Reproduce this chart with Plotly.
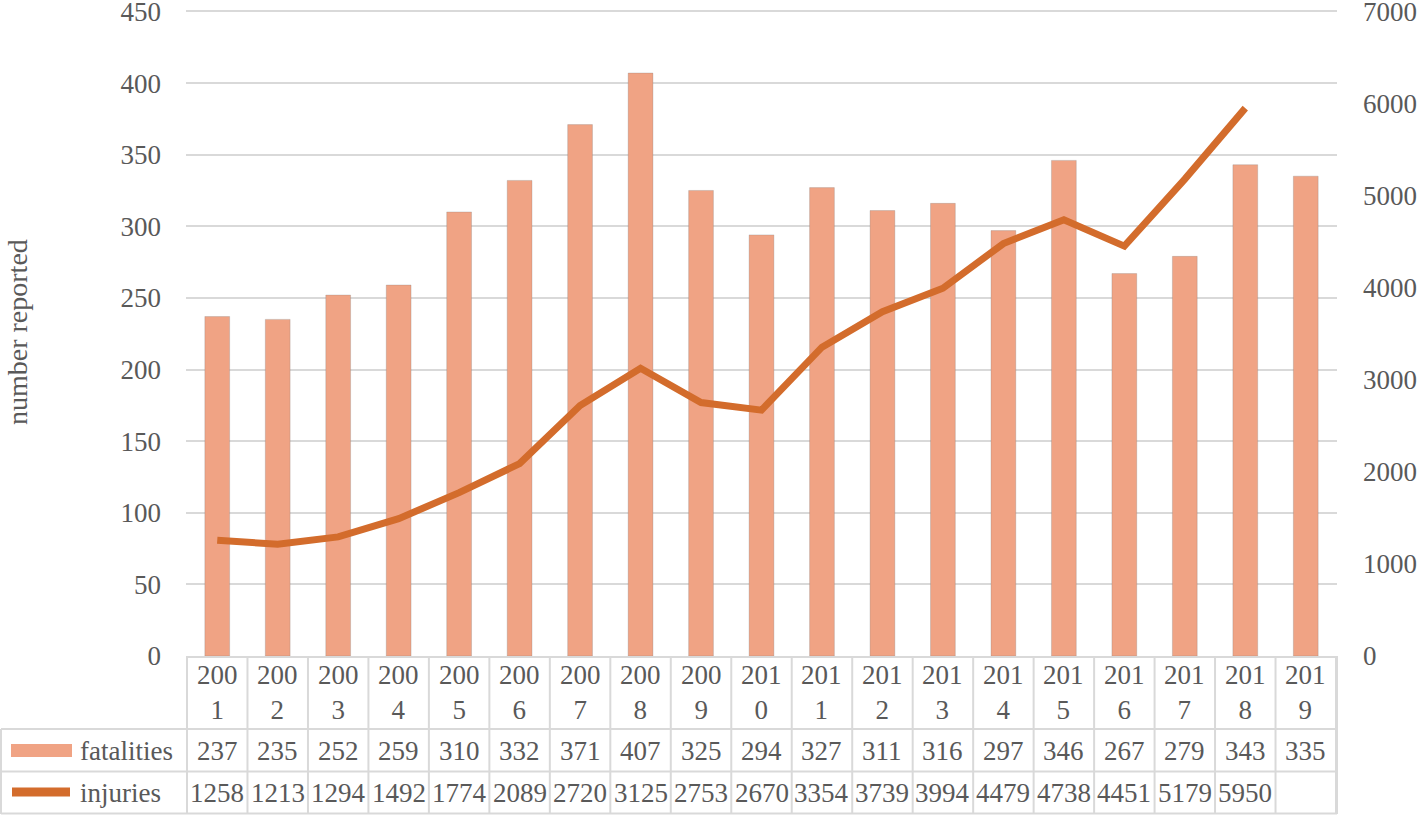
import plotly.graph_objects as go

years = [str(y) for y in range(2001, 2020)]
fatalities = [237, 235, 252, 259, 310, 332, 371, 407, 325, 294, 327, 311, 316, 297, 346, 267, 279, 343, 335]
injuries = [1258, 1213, 1294, 1492, 1774, 2089, 2720, 3125, 2753, 2670, 3354, 3739, 3994, 4479, 4738, 4451, 5179, 5950, None]

W, H = 1419, 816
L, R, T, B = 186, 82, 10, 160
PW, PH = W - L - R, H - T - B

FONT = "Liberation Serif"
TXT = "#595959"
GRID = "#D9D9D9"
BAR = "#F0A384"
LINE = "#D36C2C"

YMAX = 451  # a hair above 450 so the top gridline/label is kept
Y2MAX = 7000 * YMAX / 450


def px(x):
    return (x - L) / PW


def py(y):
    return (T + PH - y) / PH


fig = go.Figure()
fig.add_trace(go.Bar(x=years, y=fatalities, name="fatalities",
                     marker=dict(color=BAR, line=dict(color="rgba(120,120,120,0.25)", width=1))))
fig.add_trace(go.Scatter(x=years, y=injuries, name="injuries", yaxis="y2", mode="lines",
                         line=dict(color=LINE, width=7)))

# table grid
shapes = []
line = dict(color=GRID, width=2)
for i in range(len(years) + 1):
    shapes.append(dict(type="line", xref="x", yref="paper", x0=i - 0.5, x1=i - 0.5,
                       y0=0, y1=py(814), line=line, layer="above"))
for yy in (729, 771.5, 813.5):
    shapes.append(dict(type="line", xref="paper", yref="paper", x0=px(1), x1=1,
                       y0=py(yy), y1=py(yy), line=line))
shapes.append(dict(type="line", xref="paper", yref="paper", x0=px(1), x1=px(1),
                   y0=py(729), y1=py(814), line=line))
shapes.append(dict(type="line", xref="paper", yref="paper", x0=1, x1=1,
                   y0=0, y1=py(814), line=line))
# legend swatches
shapes.append(dict(type="rect", xref="paper", yref="paper", x0=px(11), x1=px(72),
                   y0=py(757), y1=py(744), fillcolor=BAR, line=dict(width=0)))
shapes.append(dict(type="line", xref="paper", yref="paper", x0=px(12), x1=px(70),
                   y0=py(792), y1=py(792), line=dict(color=LINE, width=9)))

ann = []
tf = dict(family=FONT, size=27, color=TXT)
cell = dict(xref="x", yref="paper", xanchor="center", yanchor="middle", showarrow=False, font=tf)
for i, y in enumerate(years):
    ann.append(dict(x=i, y=py(692.5), text=y[:3] + "<br>" + y[3:], **cell))
    ann.append(dict(x=i, y=py(750.5), text=str(fatalities[i]), **cell))
    if injuries[i] is not None:
        ann.append(dict(x=i, y=py(792.5), text=str(injuries[i]), **cell))
for name, yy in (("fatalities", 750.5), ("injuries", 792.5)):
    ann.append(dict(x=px(78), y=py(yy), xref="paper", yref="paper", text=name,
                    xanchor="left", yanchor="middle", showarrow=False, font=tf))
ann.append(dict(x=px(17), y=py(332), xref="paper", yref="paper", text="number reported",
                xanchor="center", yanchor="middle", textangle=-90, showarrow=False,
                font=dict(family=FONT, size=28, color=TXT)))

fig.update_layout(
    width=W, height=H,
    margin=dict(l=L, r=R, t=T, b=B, autoexpand=False),
    paper_bgcolor="white", plot_bgcolor="white",
    showlegend=False, bargap=0.59,
    font=dict(family=FONT, color=TXT),
    xaxis=dict(showticklabels=False, showgrid=False, ticks="", zeroline=False, automargin=False,
               showline=True, linecolor=GRID, linewidth=2),
    yaxis=dict(range=[0, YMAX], tick0=0, dtick=50, gridcolor=GRID, gridwidth=1.5, zeroline=False,
               ticks="", ticklabelstandoff=24, ticklabeloverflow="allow", automargin=False,
               tickfont=dict(size=27, family=FONT, color=TXT)),
    yaxis2=dict(range=[0, Y2MAX], tick0=0, dtick=1000, overlaying="y", side="right", showgrid=False,
                zeroline=False, ticks="", ticklabelstandoff=25, ticklabeloverflow="allow",
                automargin=False, tickfont=dict(size=27, family=FONT, color=TXT)),
    shapes=shapes, annotations=ann,
)

fig.write_html("out.html", config={"displayModeBar": False},
               post_script="document.body.style.margin='0';")
